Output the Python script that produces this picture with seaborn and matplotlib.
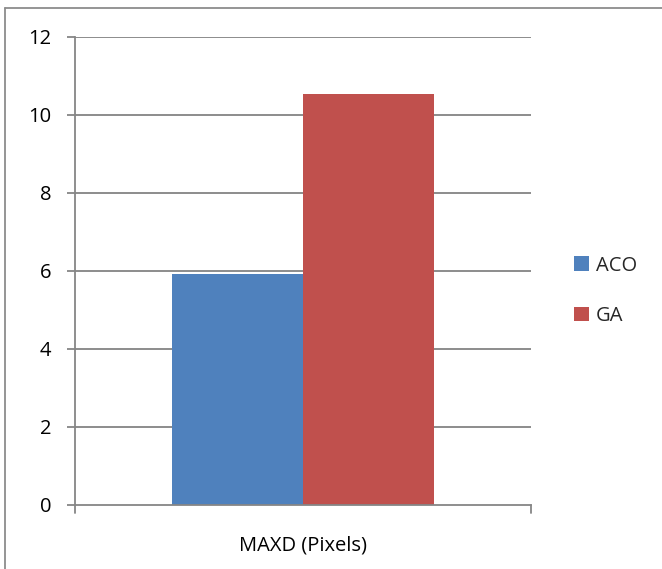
import matplotlib
matplotlib.use("Agg")
import matplotlib.pyplot as plt
import seaborn as sns
import pandas as pd
from matplotlib.lines import Line2D
from matplotlib.patches import Patch

categories = ["MAXD (Pixels)"]
series = ["ACO", "GA"]
aco_values = [5.92]
ga_values = [10.54]
colors = ["#4F81BD", "#C0504D"]
yticks = [0, 2, 4, 6, 8, 10, 12]

df = pd.DataFrame({
    "category": categories * 2,
    "series": [series[0]] * len(categories) + [series[1]] * len(categories),
    "value": aco_values + ga_values,
})

sns.set_theme(style="white")
plt.rcParams['font.family'] = ['Open Sans', 'DejaVu Sans']

FS = 14.5
W, H = 662, 569
fig = plt.figure(figsize=(W / 100, H / 100), dpi=100)
x0, x1, y0, y1 = 75, 531, 505, 37
ax = fig.add_axes([x0 / W, (H - y0) / H, (x1 - x0) / W, (y0 - y1) / H])

sns.barplot(data=df, x="category", y="value", hue="series", palette=colors,
            width=0.575, ax=ax, saturation=1, legend=False, edgecolor="none")

ax.set_xlim(-0.5, 0.5)
ax.set_ylim(0, 12)
ax.set_yticks(yticks)
ax.set_yticklabels([str(t) for t in yticks], fontsize=FS, color="#000000")
ax.set_xlabel("")
ax.set_ylabel("")
ax.tick_params(axis="x", labelsize=FS, colors="#000000", pad=22, length=0)
ax.tick_params(axis="y", length=6, width=1.3, color="#868686", pad=11, left=True)

for t in yticks[1:]:
    ax.axhline(t, color="#8C8C8C", lw=1.4, zorder=0)

for s in ["top", "right"]:
    ax.spines[s].set_visible(False)
for s in ["left", "bottom"]:
    ax.spines[s].set_color("#868686")
    ax.spines[s].set_linewidth(1.3)

# category boundary ticks on x-axis
for xv in [-0.5, 0.5]:
    ax.plot([xv, xv], [0, -0.21], color="#868686", lw=1.3, clip_on=False,
            transform=ax.transData)

# legend
handles = [Patch(facecolor=c, edgecolor="none") for c in colors]
fig.legend(handles, series, loc="center left",
           bbox_to_anchor=(574 / W, 1 - 291 / H), frameon=False,
           fontsize=FS, handlelength=0.75, handleheight=0.75,
           handletextpad=0.35, labelspacing=1.5, borderpad=0,
           borderaxespad=0)

# chart-area border (left and top visible)
fig.add_artist(Line2D([5 / W, 5 / W], [0, 1 - 8 / H], color="#8C8C8C", lw=1.3,
                      transform=fig.transFigure))
fig.add_artist(Line2D([5 / W, 1], [1 - 8 / H, 1 - 8 / H], color="#8C8C8C", lw=1.3,
                      transform=fig.transFigure))

fig.savefig("out.png", dpi=100, facecolor="white")
